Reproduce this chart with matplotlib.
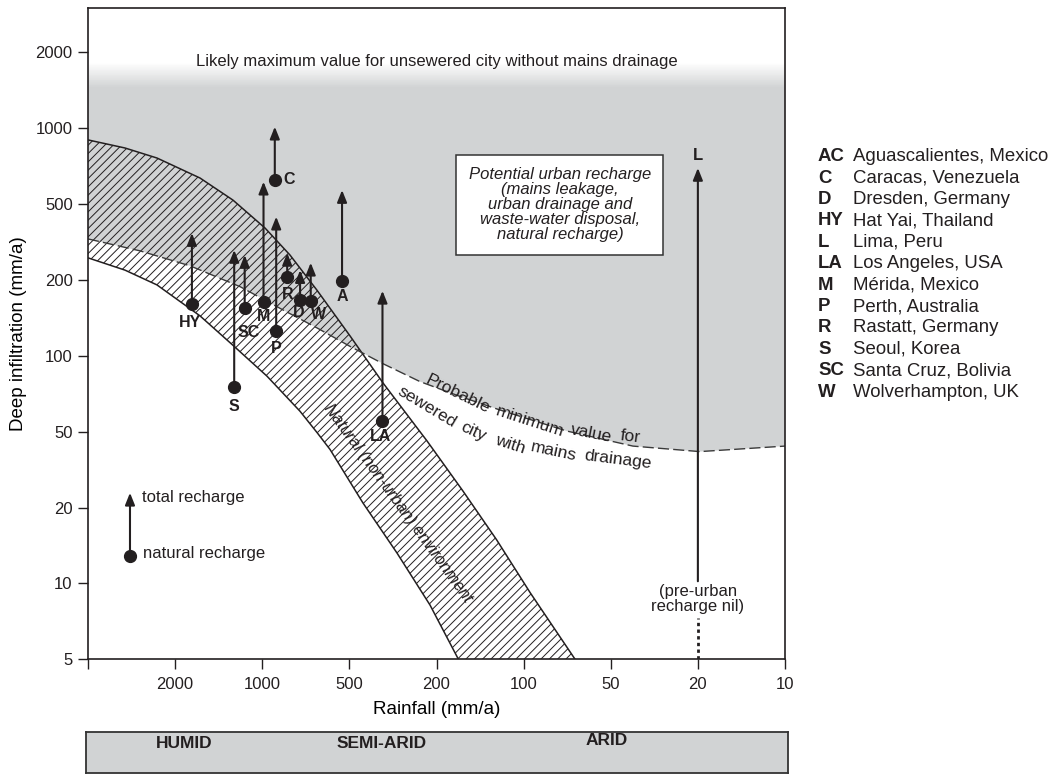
import numpy as np
import matplotlib
matplotlib.use("Agg")
import matplotlib.pyplot as plt

INK = "#231f20"
GREY = "#d1d3d4"
SANS = ["Liberation Sans", "DejaVu Sans"]
NARROW = ["Liberation Sans Narrow", "Liberation Sans", "DejaVu Sans"]

plt.rcParams["font.family"] = SANS
plt.rcParams["text.color"] = INK
plt.rcParams["hatch.linewidth"] = 0.7
plt.rcParams["hatch.color"] = INK

# the original draws the 1-2-5 steps evenly spaced on both axes
SCALE_STEPS = [2, 5, 10, 20, 50, 100, 200, 500, 1000, 2000, 5000, 10000]

# cities: rainfall, natural recharge (dot) and total recharge (arrow tip), mm/a
city_codes = ["HY", "S", "SC", "M", "C", "P", "R", "D", "W", "A", "LA"]
rainfall = [1750, 1250, 1150, 990, 905, 895, 820, 740, 680, 530, 353]
natural_recharge = [160, 75, 155, 164, 623, 125, 208, 166, 165, 198, 55]
total_recharge = [352, 287, 270, 613, 1013, 429, 277, 225, 246, 568, 181]

# Lima: no pre-urban recharge
lima_rainfall = 20
lima_total = 695
lima_arrow_base = 10.2
lima_nil_top = 7.3
lima_nil_bottom = 5

# key in the lower left
key_rainfall = 3215
key_natural = 12.85
key_total = 23.9

# natural (non-urban) environment band
band_upper_rain = [5000, 3388, 2420, 1641, 1262, 978, 802, 647, 497, 351, 221, 162, 124, 95, 66.4]
band_upper_inf = [898, 834, 761, 634, 518, 374, 270, 182, 120, 78, 44.7, 24.4, 14.9, 9.2, 5]
band_lower_rain = [5000, 3388, 2420, 1641, 1262, 963, 741, 647, 583, 433, 303, 214, 168]
band_lower_inf = [261, 225, 191, 144, 110, 83, 60.3, 49.5, 40.3, 21.1, 13.2, 8.2, 5]

# probable minimum value for sewered city with mains drainage
sewered_rain = [5000, 2893, 1776, 1193, 848, 647, 497, 351, 238, 166, 121, 71, 39.6, 19.7, 10]
sewered_inf = [328, 284, 237, 188, 152, 129, 109, 93, 79, 69, 61, 50.3, 42, 39.3, 42]

# likely maximum for unsewered city: grey fades out between these values
max_fade_from = 1444
max_fade_to = 1814

x_ticks = [5000, 2000, 1000, 500, 200, 100, 50, 20, 10]
x_tick_labels = ["", "2000", "1000", "500", "200", "100", "50", "20", "10"]
y_ticks = [5, 10, 20, 50, 100, 200, 500, 1000, 2000]
y_top = 3400

legend_codes = ["AC", "C", "D", "HY", "L", "LA", "M", "P", "R", "S", "SC", "W"]
legend_names = ["Aguascalientes, Mexico", "Caracas, Venezuela", "Dresden, Germany",
                "Hat Yai, Thailand", "Lima, Peru", "Los Angeles, USA", "Mérida, Mexico",
                "Perth, Australia", "Rastatt, Germany", "Seoul, Korea",
                "Santa Cruz, Bolivia", "Wolverhampton, UK"]

climate_zones = ["HUMID", "SEMI-ARID", "ARID"]

# label offsets from the dots, in points
label_offsets = {"HY": (-1, -13), "S": (0, -14), "SC": (2.7, -18), "M": (0, -11),
                 "C": (10, 0), "P": (0, -12), "R": (0, -13), "D": (-1, -9),
                 "W": (5.5, -9.5), "A": (0, -11), "LA": (-1.5, -11)}

_steps_log = np.log10(SCALE_STEPS)
_steps_pos = np.arange(len(SCALE_STEPS), dtype=float)


def to_pos(v):
    v = np.clip(np.asarray(v, dtype=float), 1e-6, None)
    return np.interp(np.log10(v), _steps_log, _steps_pos)


def from_pos(p):
    return 10 ** np.interp(np.asarray(p, dtype=float), _steps_pos, _steps_log)


fig = plt.figure(figsize=(10.62, 7.75), dpi=100)
ax = fig.add_axes([88 / 1062, 1 - 659.3 / 775, 697 / 1062, 651 / 775])
ax.set_xscale("function", functions=(to_pos, from_pos))
ax.set_yscale("function", functions=(to_pos, from_pos))
ax.set_xlim(5000, 10)
ax.set_ylim(5, y_top)

# grey area above the sewered-city minimum
ax.fill(sewered_rain + [10, 5000], sewered_inf + [y_top, y_top], color=GREY, lw=0, zorder=1)

# fade to white towards the unsewered maximum
edges = from_pos(np.linspace(to_pos(max_fade_from), to_pos(max_fade_to), 31))
for i in range(30):
    ax.axhspan(edges[i], edges[i + 1], color="white", alpha=(i + 0.5) / 30, lw=0, zorder=1.5)
ax.axhspan(max_fade_to, y_top, color="white", lw=0, zorder=1.5)

# natural band
band_x = band_upper_rain + band_lower_rain[::-1]
band_y = band_upper_inf + band_lower_inf[::-1]
ax.fill(band_x, band_y, facecolor="none", edgecolor=INK, hatch="////", lw=0, zorder=2)
ax.plot(band_upper_rain, band_upper_inf, color=INK, lw=1.1, zorder=3)
ax.plot(band_lower_rain, band_lower_inf, color=INK, lw=1.1, zorder=3)
ax.plot(sewered_rain, sewered_inf, color="#3a3a3a", lw=1.0, ls=(0, (8, 3)), zorder=3)

arrow_kw = dict(arrowstyle="-|>,head_length=0.6,head_width=0.24", lw=1.5, color=INK,
                shrinkA=0, shrinkB=0, mutation_scale=12)

for code, x, lo, hi in zip(city_codes, rainfall, natural_recharge, total_recharge):
    ax.annotate("", xy=(x, hi), xytext=(x, lo), arrowprops=arrow_kw, zorder=4)
    ax.annotate(code, xy=(x, lo), xytext=label_offsets[code], textcoords="offset points",
                ha="center", va="center", fontsize=11.5, fontweight="bold", zorder=6)
ax.plot(rainfall, natural_recharge, "o", ms=8.5, color=INK, zorder=5)

# Lima
ax.annotate("", xy=(lima_rainfall, lima_total), xytext=(lima_rainfall, lima_arrow_base),
            arrowprops=arrow_kw, zorder=4)
ax.plot([lima_rainfall, lima_rainfall], [lima_nil_bottom, lima_nil_top], color=INK,
        lw=2, ls=(0, (1.2, 1.2)), zorder=4)
ax.annotate("L", xy=(lima_rainfall, lima_total), xytext=(0, 9), textcoords="offset points",
            ha="center", va="center", fontsize=12, fontweight="bold", zorder=6)
ax.text(lima_rainfall, 0.093, "(pre-urban\nrecharge nil)", transform=ax.get_xaxis_transform(),
        ha="center", va="center", fontsize=12, linespacing=1.0, zorder=6)

# key
ax.annotate("", xy=(key_rainfall, key_total), xytext=(key_rainfall, key_natural),
            arrowprops=arrow_kw, zorder=4)
ax.plot([key_rainfall], [key_natural], "o", ms=8.5, color=INK, zorder=5)
ax.annotate("total recharge", xy=(key_rainfall, key_total), xytext=(9, -3.5),
            textcoords="offset points", ha="left", va="center", fontsize=12)
ax.annotate("natural recharge", xy=(key_rainfall, key_natural), xytext=(9.5, 1.5),
            textcoords="offset points", ha="left", va="center", fontsize=12)

# area annotations
ax.text(0.5, 0.919, "Likely maximum value for unsewered city without mains drainage",
        transform=ax.transAxes, ha="center", va="center", fontsize=12, zorder=6)
ax.text(0.677, 0.698,
        "Potential urban recharge\n(mains leakage,\nurban drainage and\nwaste-water disposal,\nnatural recharge)",
        transform=ax.transAxes, ha="center", va="center", fontsize=12, style="italic",
        linespacing=1.0, zorder=6,
        bbox=dict(boxstyle="square,pad=0.75", fc="white", ec="#333333", lw=1.1))

curve_words = [
    ("Probable", 0.5308, 0.407, -26), ("minimum", 0.6341, 0.365, -18),
    ("value", 0.7226, 0.347, -11), ("for", 0.7776, 0.342, -7),
    ("sewered", 0.4864, 0.388, -31), ("city", 0.5524, 0.350, -25),
    ("with", 0.6055, 0.330, -18), ("mains", 0.6676, 0.319, -12),
    ("drainage", 0.7608, 0.306, -7),
]
for word, fx, fy, rot in curve_words:
    ax.text(fx, fy, word, transform=ax.transAxes, ha="center", va="center",
            rotation=rot, rotation_mode="anchor", fontsize=12.5, zorder=6)

ax.text(0.4448, 0.2401, "Natural (non-urban) environment", transform=ax.transAxes,
        ha="center", va="center", rotation=-54, rotation_mode="anchor",
        fontsize=12, style="italic", zorder=6)

ax.set_xticks(x_ticks)
ax.set_xticklabels(x_tick_labels, fontsize=12, family=NARROW)
ax.set_yticks(y_ticks)
ax.set_yticklabels([str(v) for v in y_ticks], fontsize=12)
ax.minorticks_off()
ax.tick_params(axis="both", direction="out", length=7, width=1, color=INK, labelcolor=INK)
ax.tick_params(axis="x", pad=6)
ax.tick_params(axis="y", pad=4)
for sp in ax.spines.values():
    sp.set_linewidth(1.2)
    sp.set_color(INK)
    sp.set_zorder(7)

ax.set_xlabel("Rainfall (mm/a)", fontsize=13.5, family=NARROW, labelpad=6)
ax.set_ylabel("Deep infiltration (mm/a)", fontsize=13.5, labelpad=6)

# city list on the right
for i, (code, name) in enumerate(zip(legend_codes, legend_names)):
    y = 1 - (156.7 + i * 21.4) / 775
    fig.text(818 / 1062, y, code, fontsize=13.4, fontweight="bold", va="center")
    fig.text(853 / 1062, y, name, fontsize=13.4, va="center")

# climate strip under the axis
strip = fig.add_axes([85.5 / 1062, 2 / 775, 702.5 / 1062, 41 / 775])
strip.set_facecolor(GREY)
strip.set_xticks([])
strip.set_yticks([])
for sp in strip.spines.values():
    sp.set_linewidth(1.3)
    sp.set_color("#333333")
for zone, fx, fy in zip(climate_zones, [0.14, 0.422, 0.742], [0.73, 0.73, 0.8]):
    strip.text(fx, fy, zone, transform=strip.transAxes, ha="center", va="center",
               fontsize=12.5, fontweight="bold", family=NARROW)

fig.savefig("out.png", dpi=100)
